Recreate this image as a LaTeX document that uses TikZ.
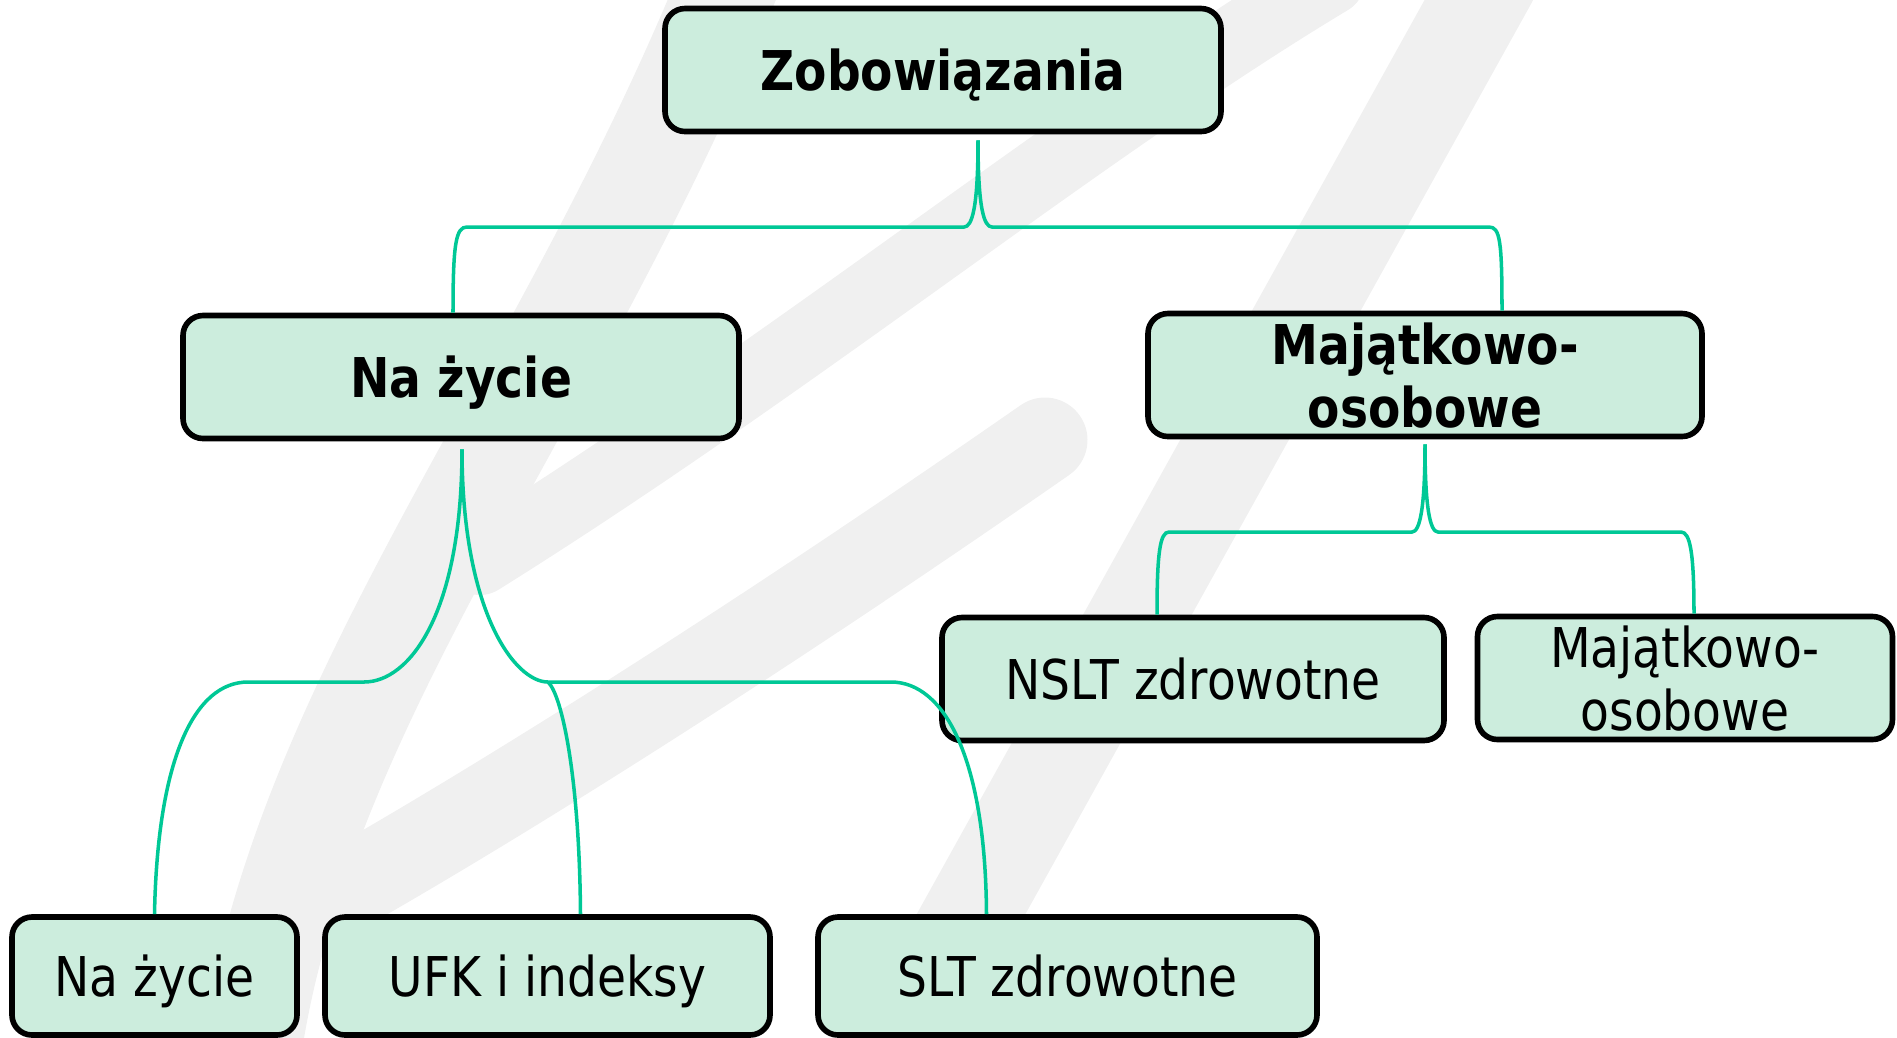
\documentclass[tikz,border=0pt]{standalone}
\usepackage{fontspec}
\setmainfont{DejaVu Sans}[FakeStretch=0.86]
\usetikzlibrary{calc}
\definecolor{mint}{HTML}{CCEDDD}
\definecolor{linkgreen}{HTML}{00C896}
\definecolor{wmgrey}{HTML}{F0F0F0}

\begin{document}
\begin{tikzpicture}[
    x = 0.1mm, y = -0.1mm,
    box/.style = {draw, line width=1.6pt, rounded corners=2mm, fill=mint,
        minimum height=12.3mm, align=center, inner xsep=1mm, inner ysep=0.5mm,
        text depth=0pt, font=\fontsize{15.6}{17.9}\selectfont},
    head/.style = {box, font=\fontsize{15.6}{17.9}\selectfont\bfseries},
    link/.style = {draw=linkgreen, line width=1pt},
    wmstroke/.style = {draw=wmgrey, line cap=round}
  ]
  \useasboundingbox (0,0) rectangle (1897,1037);

  \begin{scope}
    \clip (0,0) rectangle (1897,1037);
    \draw[wmstroke, line width=10mm] (730,-20) .. controls (560,400) and (300,700) .. (250,1060);
    \draw[wmstroke, line width=7mm] (1330,-20) .. controls (1080,130) and (800,360) .. (480,560);
    \draw[wmstroke, line width=8.5mm] (1045,440) .. controls (700,680) and (420,850) .. (290,920);
    \draw[wmstroke, line width=9.5mm] (1490,-20) -- (890,1060);
  \end{scope}

  \node[head, minimum width=55.6mm] (top) at (943,70) {Zobowiązania};
  \node[head, minimum width=55.6mm] (life) at (461,377) {Na życie};
  \node[head, minimum width=55.4mm] (prop) at (1425,375) {Majątkowo-\\osobowe};
  \node[box, minimum width=50.2mm] (nslt) at (1193,679) {NSLT zdrowotne};
  \node[box, minimum width=41.5mm] (propsub) at (1685,678) {Majątkowo-\\osobowe};
  \foreach \name/\x/\w/\txt in {lifesub/154.5/285/Na życie, ufk/547.5/445/UFK i indeksy, slt/1067.5/499/SLT zdrowotne}
    \node[box, minimum height=11.8mm, minimum width=\w*0.1mm] (\name) at (\x,976) {\txt};

  \coordinate (lifejoin) at (548,682);

  \draw[link] ($(top.south)+(35,6)$) .. controls +(0,68) and +(8,0) .. (964,227)
    -- (467,227) .. controls +(-11,0) and +(0,-70) .. ($(life.north)+(-8,0)$);
  \draw[link] ($(top.south)+(35,6)$) .. controls +(0,68) and +(-8,0) .. (992,227)
    -- (1489,227) .. controls +(11,0) and +(0,-70) .. ($(prop.north)+(77,0)$);

  \draw[link] ($(life.south)+(1,8)$) .. controls +(0,163) and +(46,0) .. (364,682)
    -- (248,682) .. controls +(-53,0) and +(3,-157) .. (lifesub.north);
  \draw[link] ($(life.south)+(1,8)$) .. controls +(0,163) and +(-33,0) .. (lifejoin)
    -- (891,682) .. controls +(53,0) and +(-1,-157) .. ($(slt.north)+(-81,0)$);
  \draw[link] (lifejoin) .. controls +(14,13) and +(-1,-137) .. ($(ufk.north)+(33,0)$);

  \draw[link] ($(prop.south)+(0,5)$) .. controls +(0,63) and +(8,0) .. (1412,532)
    -- (1169,532) .. controls +(-9,0) and +(0,-62) .. ($(nslt.north)+(-36,0)$);
  \draw[link] ($(prop.south)+(0,5)$) .. controls +(0,63) and +(-8,0) .. (1438,532)
    -- (1681,532) .. controls +(9,0) and +(0,-62) .. ($(propsub.north)+(9,0)$);
\end{tikzpicture}
\end{document}
